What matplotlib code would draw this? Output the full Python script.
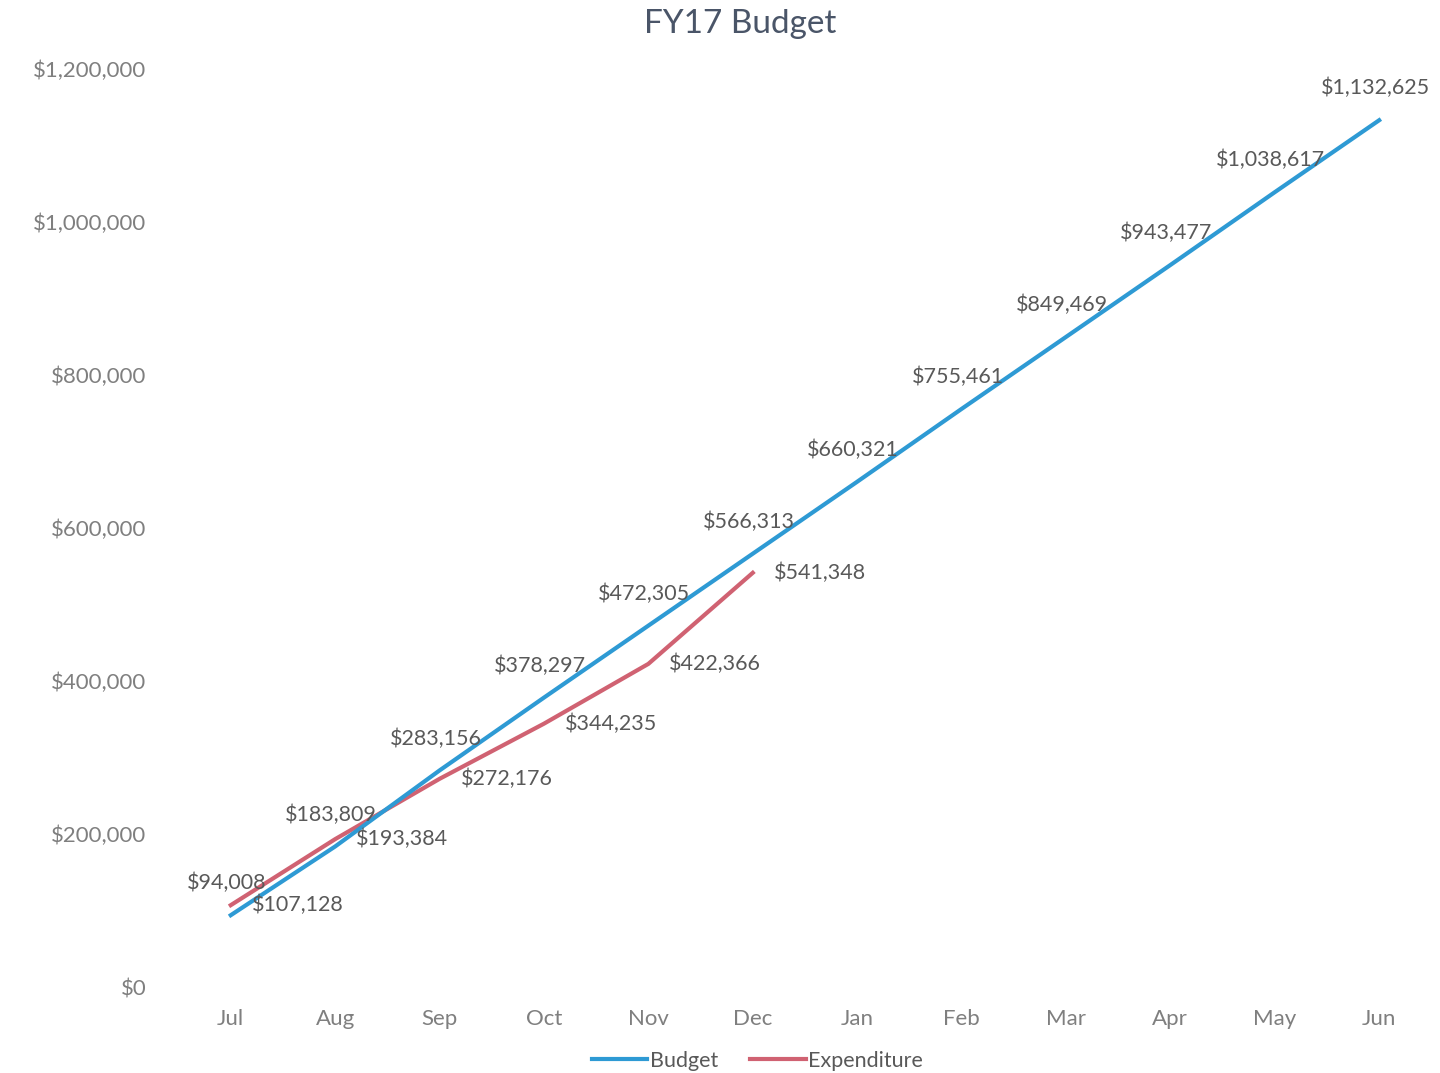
import matplotlib.pyplot as plt
from matplotlib.ticker import FuncFormatter

# monthly data, FY17
months = ["Jul", "Aug", "Sep", "Oct", "Nov", "Dec", "Jan", "Feb", "Mar", "Apr", "May", "Jun"]
budget = [94008, 183809, 283156, 378297, 472305, 566313,
          660321, 755461, 849469, 943477, 1038617, 1132625]
expenditure = [107128, 193384, 272176, 344235, 422366, 541348]

blue = "#2E9AD4"
red = "#D06272"
grey = "#595959"

plt.rcParams['font.family'] = ['Lato', 'DejaVu Sans']

fig = plt.figure(figsize=(14.4, 10.73), dpi=100)
ax = fig.add_axes([0.124, 0.080, 0.870, 0.856])

x_b = list(range(len(budget)))
x_e = list(range(len(expenditure)))
ax.plot(x_b, budget, color=blue, lw=3, label="Budget", zorder=3)
ax.plot(x_e, expenditure, color=red, lw=3, label="Expenditure", zorder=2)

# data labels: budget above, expenditure to the right
for xi, v in zip(x_b, budget):
    ax.annotate("${:,}".format(v), (xi, v), xytext=(-4, 32), textcoords="offset pixels",
                ha="center", va="center", fontsize=15.5, color=grey, zorder=4)
for xi, v in zip(x_e, expenditure):
    ax.annotate("${:,}".format(v), (xi, v), xytext=(21, 0), textcoords="offset pixels",
                ha="left", va="center", fontsize=15.5, color=grey, zorder=4)

ax.set_xlim(-0.5, 11.5)
ax.set_ylim(0, 1200000)
ax.set_xticks(x_b)
ax.set_xticklabels(months)
ax.set_yticks(range(0, 1200001, 200000))
ax.yaxis.set_major_formatter(FuncFormatter(lambda v, p: "${:,.0f}".format(v)))
ax.tick_params(length=0, labelsize=16, colors="#7F7F7F", pad=23)
ax.tick_params(axis="x", pad=16)
for s in ax.spines.values():
    s.set_visible(False)

fig.text(0.514, 0.978, "FY17 Budget", ha="center", va="center", fontsize=24, color="#4A5568")

ax.legend(loc="lower center", bbox_to_anchor=(0.462, -0.112), ncol=2, frameon=False,
          fontsize=15.5, labelcolor=grey, handlelength=2.6, handletextpad=0.1, columnspacing=1.5)

fig.savefig("out.png", dpi=100, facecolor="white")
